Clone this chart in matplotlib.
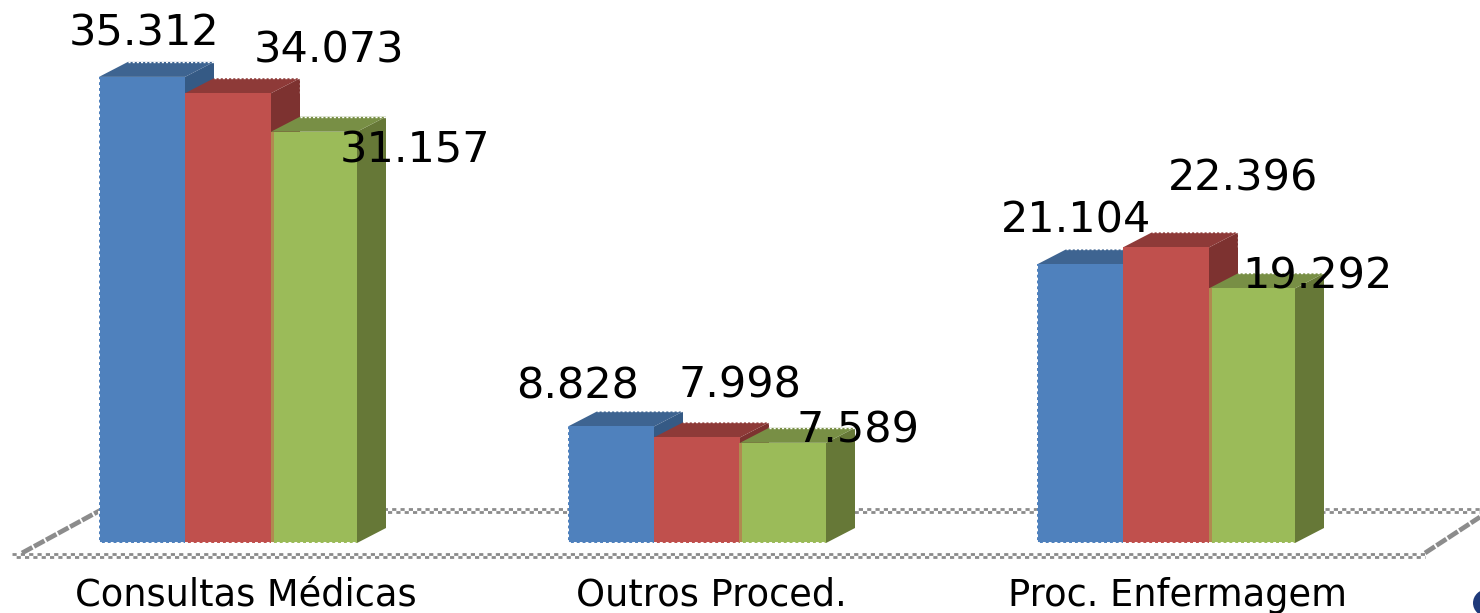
import numpy as np
import matplotlib
matplotlib.use('Agg')
import matplotlib.pyplot as plt

categorias = ['Consultas Médicas', 'Outros Proced.', 'Proc. Enfermagem']
serie1 = [35312, 8828, 21104]
serie2 = [34073, 7998, 22396]
serie3 = [31157, 7589, 19292]
series = [serie1, serie2, serie3]

cores_frente = ['#4F81BD', '#C0504D', '#9BBB59']
cores_topo = ['#3E6491', '#8E3A38', '#788F45']
cores_lado = ['#355A85', '#7D3230', '#667837']

# deslocamento dos rotulos em pixels, a partir do topo de cada barra
desloc = [[(2, 31), (-33, 28), (-4, 32)],
          [(101, 31), (43, 40), (77, 57)],
          [(101, -31), (75, 0), (65, 0)]]
desloc_cat = [18, 14, 11]

# escala: 469 px entre grupos, 0.0132 px por unidade
PX_X = 469.0
PX_Y = 0.0132
X0 = 228.0
Y0 = 543.0
largura = 86 / PX_X
dx = 29 / PX_X
dy = 15 / PX_Y


def fx(p):
    return (p - X0) / PX_X


def fy(p):
    return (Y0 - p) / PX_Y


def linha_piso(x0, x1, y):
    # duas fileiras defasadas dao o aspecto quadriculado
    ax.plot([fx(x0), fx(x1)], [fy(y - 1.4), fy(y - 1.4)], color=cinza, lw=2.0,
            ls=(0, (1.5, 1.5)), zorder=1)
    ax.plot([fx(x0), fx(x1)], [fy(y + 1.4), fy(y + 1.4)], color=cinza, lw=2.0,
            ls=(1.5, (1.5, 1.5)), zorder=1)


fig = plt.figure(figsize=(14.8, 6.13), dpi=100)
ax = fig.add_axes([0, 0, 1, 1])
ax.set_xlim(fx(0), fx(1480))
ax.set_ylim(fy(613), fy(0))
ax.axis('off')

# piso
cinza = '#8C8C8C'
linha_piso(12, 1425, 555.5)
linha_piso(100, 1480, 510.5)
ax.plot([fx(22), fx(100)], [fy(553), fy(510.5)], color=cinza, lw=3.4, ls=(0, (2.5, 0.4)), zorder=1)
ax.plot([fx(1425), fx(1480)], [fy(553), fy(517)], color=cinza, lw=3.4, ls=(0, (2.5, 0.4)), zorder=1)

pontilhado = (0, (1.5, 1.5))
pos = np.arange(len(categorias))
z = 2
for i, valores in enumerate(series):
    xs = pos + (i - 1) * largura
    for x, v in zip(xs, valores):
        esq, dir_ = x - largura / 2, x + largura / 2
        ax.fill([dir_, dir_ + dx, dir_ + dx, dir_], [0, dy, v + dy, v],
                color=cores_lado[i], lw=0, zorder=z)
        ax.fill([esq, esq + dx, dir_ + dx, dir_], [v, v + dy, v + dy, v],
                color=cores_topo[i], lw=0, zorder=z)
        ax.bar(x, v, width=largura, color=cores_frente[i], lw=0, zorder=z + 0.5)
        # borda pontilhada branca
        ax.plot([esq, dir_], [0, 0], color='white', lw=1.4, ls=pontilhado, zorder=z + 0.6)
        ax.plot([esq + dx, dir_ + dx], [v + dy, v + dy], color='white', lw=1.0, ls=pontilhado, zorder=z + 0.6)
        if i == 0:
            ax.plot([esq, esq], [0, v], color='white', lw=1.4, ls=pontilhado, zorder=z + 0.6)
        if i == 1:
            ax.plot([dir_ + dx, dir_ + dx], [v, v + dy], color='white', lw=1.0, ls=pontilhado, zorder=z + 0.6)
        if i == 2:
            # emenda entre a barra vermelha e a verde
            ax.bar(esq + 1 / PX_X, v, width=3 / PX_X, color='#B08A50', lw=0, zorder=z + 0.55)
    for x, v, d in zip(xs, valores, desloc[i]):
        rotulo = f'{v:,}'.replace(',', '.')
        ax.annotate(rotulo, xy=(x, v), xytext=d, textcoords='offset pixels',
                    ha='center', va='baseline', fontsize=31, color='black', zorder=10)
    z += 1

for x, nome, d in zip(pos, categorias, desloc_cat):
    ax.annotate(nome, xy=(x, 0), xytext=(d, -63), textcoords='offset pixels',
                ha='center', va='baseline', fontsize=26.5, color='black', zorder=10)

# pedaco do logo no canto
ax.add_patch(matplotlib.patches.Ellipse((fx(1488), fy(603)), 30 / PX_X, 28 / PX_Y,
                                        color='#1F3A7A', lw=0, zorder=10))

fig.savefig('out.png', dpi=100)
